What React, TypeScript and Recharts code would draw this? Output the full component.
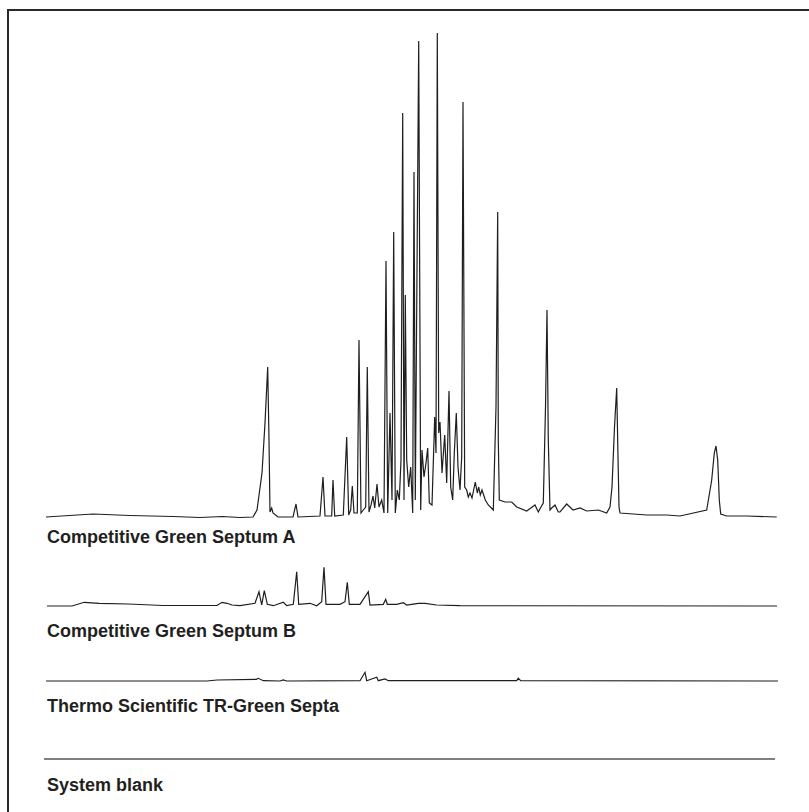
import React from "react";
import { LineChart, Line, XAxis, YAxis } from "recharts";

// retention (s) and detector signal
const septumATime = [
  46, 93, 130, 173, 200, 222, 240, 253, 257, 262, 265, 267.7, 269, 270, 271.7, 273, 278, 293, 296, 298,
  320, 323, 325, 331.7, 333, 334.7, 343.3, 346.7, 348.7, 350.7, 352.3, 354, 357.3, 359, 361, 363.3, 365.7,
  367.3, 369, 371, 373, 374.7, 377, 379, 381.7, 384, 386, 387.7, 390, 392, 393.7, 395.3, 397.3, 399.3, 401,
  402.7, 404, 405.3, 406.7, 408.7, 410.7, 412.7, 414, 415.3, 418.7, 420.7, 422, 424, 426, 427.7, 429.3, 432,
  434.7, 436, 437.3, 438.7, 440, 442, 444.7, 446.7, 449, 450.7, 452.7, 454.3, 456.3, 458, 460, 461.7, 463,
  464.7, 466.7, 468.3, 470, 472, 475.3, 477.3, 478.7, 480.3, 482, 485.3, 488.3, 493.3, 496, 497.7, 498.3,
  499.3, 505, 511.7, 516.7, 526.7, 535, 538.3, 541, 543.3, 545.5, 547, 548.3, 550, 551.7, 555, 558.3, 560,
  566.7, 573, 580, 586.7, 598.3, 606.7, 610, 612, 614.5, 616.7, 618, 619, 620, 633.3, 646.7, 666.7, 680,
  706.7, 711.7, 714.3, 716, 717.7, 719.3, 720.7, 726.7, 746.7, 776.7,
];
const septumASignal = [
  0, 3, 1.5, 0.5, -0.5, 0.5, -0.5, 0, 7, 44, 94, 150, 77, 5, 9, 4, 0, 0, 13, 0,
  1, 40, 1, 1, 37, 1, 2, 80, 2, 7, 31, 4, 4, 177, 4, 7, 10,
  150, 5, 12, 21, 9, 33, 10, 17, 4, 256, 4, 104, 17, 285, 4, 27, 17, 57,
  404, 17, 222, 57, 30, 50, 4, 345, 17, 476, 7, 67, 40, 54, 69, 14, 12,
  100, 64, 484, 84, 95, 44, 82, 34, 126, 30, 17, 64, 104, 50, 27, 60, 415,
  30, 27, 20, 24, 19, 35, 24, 30, 22, 27, 17, 12, 7, 110, 305, 77,
  17, 15, 15, 10, 6, 12, 5, 10, 14, 110, 207, 77, 7, 9, 12, 5, 5,
  13, 7, 9, 6, 7, 4, 10, 30, 90, 129, 60, 10, 4, 3, 2, 2, 1,
  7, 37, 64, 71, 57, 17, 3, 1, 1, 0,
];

const septumBTime = [
  47, 60, 72, 84.3, 99, 128.5, 163, 217, 222, 227, 232, 240, 255, 259, 261.7, 264.3, 267.3, 273.3, 283.3,
  286.7, 293.3, 296.7, 298.7, 310, 316.7, 321.7, 324, 326, 340, 345, 347.3, 349.3, 360, 368.3, 370, 383.3,
  385.7, 387.3, 396.7, 403.3, 406.7, 418.3, 425, 436.7, 460, 777,
];
const septumBSignal = [
  0, 0, 0, 3.7, 2.7, 2, 0.5, 0.5, 3.7, 2.7, 1, 0.3, 2.7, 14.3, 1, 15.3, 1.7, 0.3, 3.7,
  0.3, 1.7, 34.3, 1.7, 2.7, 0.3, 4.3, 38.7, 1.7, 1.7, 4.3, 23.7, 1.7, 1.7, 14.3, 1, 1.7,
  6.7, 1.7, 1.7, 3.3, 1, 2.7, 2.7, 1, 0.3, 0,
];

const trGreenTime = [
  46, 70, 207, 217, 256.4, 258.3, 263.3, 280, 283.3, 286.7, 360, 365, 366.7, 376.7, 378.3, 385, 388.3,
  516.7, 518.3, 520.7, 778,
];
const trGreenSignal = [
  0, 0, 0, 1, 1.7, 2.7, 0.3, 0, 1, 0, 0.3, 8.7, 0.3, 3.7, 0.3, 2, 0.3,
  0.3, 2.7, 0.3, 0,
];

const blankTime = [44, 775];
const blankSignal = [0, 0];

const labels = [
  "Competitive Green Septum A",
  "Competitive Green Septum B",
  "Thermo Scientific TR-Green Septa",
  "System blank",
];

const toRows = (t: number[], s: number[]) => t.map((x, i) => ({ t: x, s: s[i] }));

const TIME_DOMAIN: [number, number] = [44, 778];

function Trace({
  rows,
  top,
  yDomain,
  color,
  width,
}: {
  rows: { t: number; s: number }[];
  top: number;
  yDomain: [number, number];
  color: string;
  width: number;
}) {
  const h = yDomain[1] - yDomain[0];
  return (
    <div style={{ position: "absolute", left: 44, top }}>
      <LineChart width={734} height={h} data={rows} margin={{ top: 0, right: 0, bottom: 0, left: 0 }}>
        <XAxis type="number" dataKey="t" domain={TIME_DOMAIN} hide />
        <YAxis type="number" domain={yDomain} hide />
        <Line
          type="linear"
          dataKey="s"
          stroke={color}
          strokeWidth={width}
          dot={false}
          isAnimationActive={false}
        />
      </LineChart>
    </div>
  );
}

const labelStyle: React.CSSProperties = {
  position: "absolute",
  left: 47,
  fontFamily: '"Liberation Sans", Arial, sans-serif',
  fontWeight: "bold",
  fontSize: 18,
  lineHeight: "18px",
  color: "#231f20",
  whiteSpace: "nowrap",
};

export default function App() {
  return (
    <div style={{ position: "absolute", left: 0, top: 0, width: 809, height: 812, background: "#fff" }}>
      <div
        style={{
          position: "absolute",
          left: 7,
          top: 9,
          width: 802,
          height: 803,
          borderTop: "2px solid #2a2a2a",
          borderLeft: "2px solid #2a2a2a",
          boxSizing: "border-box",
        }}
      />
      <Trace rows={toRows(septumATime, septumASignal)} top={517 - 488} yDomain={[-4, 488]} color="#1e1e1e" width={1.2} />
      <Trace rows={toRows(septumBTime, septumBSignal)} top={606 - 44} yDomain={[-4, 44]} color="#1e1e1e" width={1.2} />
      <Trace rows={toRows(trGreenTime, trGreenSignal)} top={681 - 14} yDomain={[-4, 14]} color="#1e1e1e" width={1.2} />
      <Trace rows={toRows(blankTime, blankSignal)} top={759 - 4} yDomain={[-4, 4]} color="#808080" width={2} />
      <div style={{ ...labelStyle, top: 528 }}>{labels[0]}</div>
      <div style={{ ...labelStyle, top: 622 }}>{labels[1]}</div>
      <div style={{ ...labelStyle, top: 696.5 }}>{labels[2]}</div>
      <div style={{ ...labelStyle, top: 775.5 }}>{labels[3]}</div>
    </div>
  );
}
